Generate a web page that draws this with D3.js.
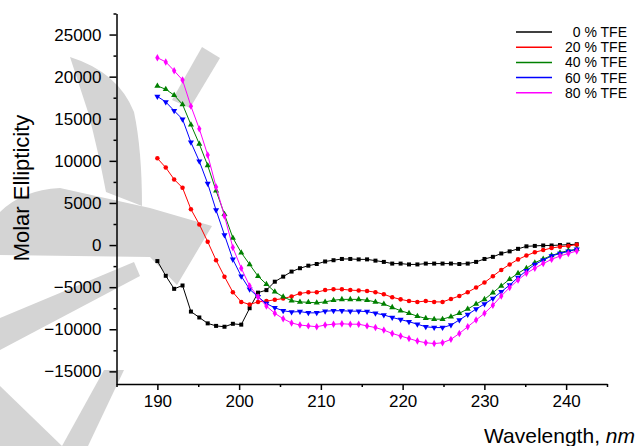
<!DOCTYPE html>
<html>
<head>
<meta charset="utf-8">
<script src="https://cdn.jsdelivr.net/npm/d3@7"></script>
<style>
  body { margin: 0; background: #fff; }
  svg { display: block; font-family: "Liberation Sans", Arial, sans-serif; }
  .axis path, .axis line { stroke: #000; stroke-width: 1.5; }
  .axis text { fill: #000; font-size: 17px; font-family: "Liberation Sans", Arial, sans-serif; }
  .watermark { fill: #d4d4d4; stroke: none; }
</style>
</head>
<body>
<svg id="chart"></svg>
<script>
// wavelength grid (nm): 51 readings starting at 190
var wavelengths = d3.range(51).map(function(i) { return 190 + i * 1.026; });

// molar ellipticity
var tfe0 = [-1900,-3650,-5200,-4800,-7900,-8600,-9300,-9600,-9700,-9350,-9450,-7500,-5650,-5350,-4350,-3750,-3150,-2750,-2450,-2250,-1950,-1800,-1650,-1650,-1700,-1700,-1850,-2000,-2200,-2200,-2300,-2300,-2200,-2200,-2200,-2200,-2250,-2200,-2000,-1650,-1400,-1000,-750,-450,-150,-100,-50,-50,0,50,100];
var tfe20 = [10300,9200,7800,6800,4250,2450,400,-1800,-3750,-5600,-6750,-7050,-6750,-6650,-6500,-6350,-6100,-5750,-5600,-5600,-5350,-5250,-5250,-5350,-5400,-5450,-5600,-5850,-6200,-6450,-6650,-6750,-6650,-6750,-6750,-6400,-6050,-5600,-5050,-4450,-3700,-2950,-2300,-1700,-1250,-850,-600,-350,-200,-100,50];
var tfe40 = [18900,18500,17800,16700,14300,12000,9450,6450,3650,850,-900,-2300,-3700,-4650,-5550,-6150,-6600,-6750,-6800,-6850,-6750,-6550,-6450,-6450,-6450,-6550,-6750,-7000,-7400,-7800,-8100,-8450,-8700,-8800,-8800,-8500,-8100,-7600,-7000,-6450,-5650,-4850,-4050,-3350,-2750,-2100,-1650,-1250,-900,-650,-500];
var tfe60 = [17650,17000,15950,14950,12200,9950,7300,4150,1200,-1700,-3700,-5250,-6150,-6950,-7450,-7800,-7950,-7900,-8050,-8050,-7850,-7800,-7800,-7850,-7850,-7900,-8100,-8300,-8600,-8850,-9100,-9400,-9700,-9800,-9800,-9500,-8900,-8250,-7600,-7000,-6350,-5550,-4750,-3850,-3050,-2300,-1800,-1300,-1000,-750,-500];
var tfe80 = [22250,21750,20700,19600,16500,13800,10700,6900,3450,-300,-2750,-4850,-6150,-7250,-8100,-8750,-9250,-9500,-9600,-9700,-9500,-9400,-9350,-9400,-9400,-9600,-9800,-10100,-10500,-10800,-11100,-11400,-11600,-11700,-11600,-11200,-10500,-9700,-8900,-8100,-7150,-6050,-5050,-4150,-3350,-2750,-2200,-1700,-1300,-1000,-700];

var seriesNames = ["0 % TFE", "20 % TFE", "40 % TFE", "60 % TFE", "80 % TFE"];
var seriesColors = ["#000000", "#ff0000", "#008000", "#0000ff", "#ff00ff"];
var seriesValues = [tfe0, tfe20, tfe40, tfe60, tfe80];

var xTicks = [190, 200, 210, 220, 230, 240];
var xMinorTicks = [185, 195, 205, 215, 225, 235, 245];
var yTicks = [-15000, -10000, -5000, 0, 5000, 10000, 15000, 20000, 25000];
var yMinorTicks = [-12500, -7500, -2500, 2500, 7500, 12500, 17500, 22500, 27500];

var width = 636, height = 446;
var svg = d3.select("#chart").attr("width", width).attr("height", height);

// faint background watermark (page decoration, not data)
var wm = svg.append("g");
[
  "M202,47 L220,58 L190,108 L172,100 Z",
  "M70,57 Q118,72 134,112 Q142,150 142,206 L106,192 Q98,150 88,112 Z",
  "M0,212 Q22,190 60,188 L150,208 L212,226 L177,285 L150,257 L0,255 Z",
  "M0,318 L134,262 L140,276 L0,350 Z",
  "M0,386 L62,446 L0,446 Z",
  "M104,370 L124,370 L88,446 L62,446 Z"
].forEach(function(p) {
  wm.append("path").attr("class", "watermark").attr("d", p);
});

var x = d3.scaleLinear().domain([185, 245]).range([116.5, 607]);
var y = d3.scaleLinear().domain([-16500, 27500]).range([384, 13.5]);

// minor ticks first, then major axes on top
svg.append("g")
    .attr("class", "axis")
    .attr("transform", "translate(0," + y(-16500) + ")")
    .call(d3.axisBottom(x).tickValues(xMinorTicks).tickSize(3).tickFormat(""))
    .select(".domain").remove();

svg.append("g")
    .attr("class", "axis")
    .attr("transform", "translate(" + x(185) + ",0)")
    .call(d3.axisLeft(y).tickValues(yMinorTicks).tickSize(3).tickFormat(""))
    .select(".domain").remove();

svg.append("g")
    .attr("class", "axis")
    .attr("transform", "translate(0," + y(-16500) + ")")
    .call(d3.axisBottom(x).tickValues(xTicks).tickSize(6).tickSizeOuter(0).tickPadding(5).tickFormat(d3.format("d")));

svg.append("g")
    .attr("class", "axis")
    .attr("transform", "translate(" + x(185) + ",0)")
    .call(d3.axisLeft(y).tickValues(yTicks).tickSize(7).tickSizeOuter(0).tickPadding(8).tickFormat(d3.format("d")));

// axis titles
svg.append("text")
    .attr("transform", "rotate(-90)")
    .attr("x", -188)
    .attr("y", 29)
    .attr("text-anchor", "middle")
    .style("font-size", "22px")
    .text("Molar Ellipticity");

var xTitle = svg.append("text")
    .attr("x", 635)
    .attr("y", 443)
    .attr("text-anchor", "end")
    .style("font-size", "21px");
xTitle.append("tspan").text("Wavelength, ");
xTitle.append("tspan").style("font-style", "italic").text("nm");

// curves
var symbols = [
  { type: d3.symbolSquare, rot: 0 },
  { type: d3.symbolCircle, rot: 0 },
  { type: d3.symbolTriangle, rot: 0 },
  { type: d3.symbolTriangle, rot: 180 },
  { type: d3.symbolDiamond, rot: 0 }
];

var line = d3.line()
    .x(function(d) { return x(d[0]); })
    .y(function(d) { return y(d[1]); });

seriesValues.forEach(function(vals, k) {
  var pts = wavelengths.map(function(w, i) { return [w, vals[i]]; });
  var g = svg.append("g");
  g.append("path")
      .datum(pts)
      .attr("fill", "none")
      .attr("stroke", seriesColors[k])
      .attr("stroke-width", 1)
      .attr("d", line);
  g.selectAll("path.pt")
      .data(pts)
      .enter()
      .append("path")
      .attr("class", "pt")
      .attr("fill", seriesColors[k])
      .attr("transform", function(d) {
        return "translate(" + x(d[0]) + "," + y(d[1]) + ") rotate(" + symbols[k].rot + ")";
      })
      .attr("d", d3.symbol().type(symbols[k].type).size(16));
});

// legend
var legend = svg.append("g").attr("class", "legend");
var rows = legend.selectAll("g")
    .data(seriesNames)
    .enter()
    .append("g")
    .attr("transform", function(d, i) { return "translate(0," + (32 + i * 15.2) + ")"; });

rows.append("line")
    .attr("x1", 516).attr("x2", 552)
    .attr("y1", 0).attr("y2", 0)
    .attr("stroke", function(d, i) { return seriesColors[i]; })
    .attr("stroke-width", 1.5);

rows.append("text")
    .attr("x", 627)
    .attr("y", 5)
    .attr("text-anchor", "end")
    .style("font-size", "14px")
    .text(function(d) { return d; });
</script>
</body>
</html>
